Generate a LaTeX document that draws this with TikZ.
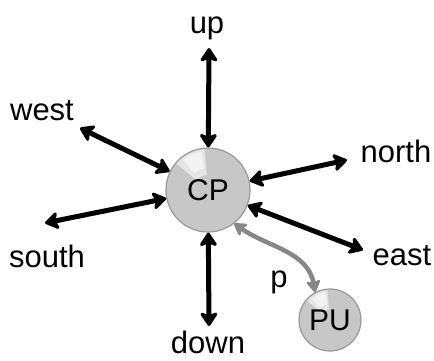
\documentclass[tikz,border=0pt]{standalone}
\usepackage{fontspec}
\setmainfont{Liberation Sans}
\usetikzlibrary{arrows.meta}

\begin{document}
\begin{tikzpicture}[x=1pt,y=1pt,
  ball/.style={circle,draw=black!40,line width=1.2pt,fill=black!22,inner sep=0pt},
  lbl/.style={anchor=base,font=\fontsize{31}{33}\selectfont},
  dir/.style={line width=5pt,
    {Stealth[length=16pt,width=21pt,inset=4pt,round]}-{Stealth[length=16pt,width=21pt,inset=4pt,round]}},
  link/.style={line width=4.5pt,draw=black!47,
    {Stealth[length=14pt,width=17pt,inset=3.5pt,round]}-{Stealth[length=14pt,width=17pt,inset=3.5pt,round]}},
  shine/.style={fill=white,opacity=.55}]
\useasboundingbox (0,0) rectangle (434,360);

\node[ball,minimum size=84pt] (CP) at (208,170) {};
\node[ball,minimum size=62pt] (PU) at (330,40) {};
\fill[shine] (CP.center) ++(95:15pt) arc[start angle=95,end angle=140,radius=15pt]
  -- ++(140:26pt) arc[start angle=140,end angle=95,radius=41pt] -- cycle;
\fill[shine] (CP.center) ++(100:22pt) arc[start angle=100,end angle=130,radius=22pt]
  -- ++(130:17pt) arc[start angle=130,end angle=100,radius=39pt] -- cycle;
\fill[shine] (PU.center) ++(95:11pt) arc[start angle=95,end angle=140,radius=11pt]
  -- ++(140:19pt) arc[start angle=140,end angle=95,radius=30pt] -- cycle;
\fill[shine] (PU.center) ++(100:16pt) arc[start angle=100,end angle=130,radius=16pt]
  -- ++(130:12pt) arc[start angle=130,end angle=100,radius=28pt] -- cycle;
\node[font=\fontsize{30}{32}\selectfont] (CPtext) at (CP.center) {CP};
\node[font=\fontsize{30}{32}\selectfont] (PUtext) at (PU.center) {PU};

\node[lbl] (up) at (207,327) {up};
\node[lbl] (down) at (208,6.5) {down};
\node[lbl] (west) at (42,240) {west};
\node[lbl] (south) at (47,93) {south};
\node[lbl] (north) at (396,198) {north};
\node[lbl] (east) at (402,95) {east};
\node[lbl] (plabel) at (279,73) {p};

\coordinate (toup) at (209,312);
\coordinate (todown) at (209,34);
\coordinate (towest) at (80,232);
\coordinate (tosouth) at (45,137);
\coordinate (tonorth) at (347,200);
\coordinate (toeast) at (363,110);

\draw[dir] (toup) -- (CP);
\draw[dir] (todown) -- (CP);
\draw[dir] (towest) -- (CP);
\draw[dir] (tosouth) -- (CP);
\draw[dir] (tonorth) -- (CP);
\draw[dir] (toeast) -- (CP);
\draw[link] (CP.-52) to[out=-35,in=100] (PU.118);
\end{tikzpicture}
\end{document}
